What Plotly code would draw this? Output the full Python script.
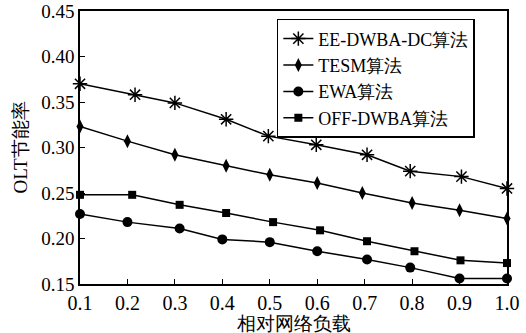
import plotly.graph_objects as go

names = ["EE-DWBA-DC算法", "TESM算法", "EWA算法", "OFF-DWBA算法"]
x_ee = [0.1, 0.216, 0.30, 0.408, 0.497, 0.598, 0.705, 0.796, 0.904, 1.0]
y_ee = [0.370, 0.358, 0.349, 0.331, 0.3125, 0.303, 0.292, 0.274, 0.268, 0.255]
x_tesm = [0.1, 0.2, 0.3, 0.408, 0.5, 0.6, 0.695, 0.8, 0.9, 1.0]
y_tesm = [0.323, 0.307, 0.292, 0.280, 0.270, 0.261, 0.250, 0.239, 0.231, 0.222]
x_ewa = [0.1, 0.2, 0.31, 0.40, 0.5, 0.6, 0.705, 0.796, 0.9, 1.0]
y_ewa = [0.227, 0.218, 0.211, 0.199, 0.196, 0.186, 0.177, 0.168, 0.156, 0.156]
x_off = [0.1, 0.21, 0.31, 0.408, 0.507, 0.606, 0.705, 0.805, 0.902, 1.0]
y_off = [0.248, 0.248, 0.237, 0.228, 0.218, 0.209, 0.197, 0.186, 0.176, 0.173]
x_ticks = [0.1, 0.2, 0.3, 0.4, 0.5, 0.6, 0.7, 0.8, 0.9, 1.0]
x_tick_labels = ["0.1", "0.2", "0.3", "0.4", "0.5", "0.6", "0.7", "0.8", "0.9", "1.0"]
y_ticks = [0.15, 0.20, 0.25, 0.30, 0.35, 0.40, 0.45]
y_tick_labels = ["0.15", "0.20", "0.25", "0.30", "0.35", "0.40", "0.45"]
x_title = "相对网络负载"
y_title = "OLT节能率"

FONT = "Liberation Serif"

series = [
    (x_ee, y_ee, names[0], dict(symbol="asterisk-open", size=12, color="black", line=dict(color="black", width=1.5))),
    (x_tesm, y_tesm, names[1], dict(symbol="diamond-tall", size=10, color="black")),
    (x_ewa, y_ewa, names[2], dict(symbol="circle", size=10, color="black")),
    (x_off, y_off, names[3], dict(symbol="square", size=8, color="black")),
]

fig = go.Figure()
for xs, ys, nm, mk in series:
    fig.add_trace(go.Scatter(x=xs, y=ys, name=nm, mode="lines+markers",
                             line=dict(color="black", width=1.5), marker=mk, cliponaxis=False))

fig.update_layout(
    width=526, height=333,
    margin=dict(l=80, r=19, t=11, b=49),
    paper_bgcolor="white", plot_bgcolor="white",
    font=dict(family=FONT, size=20, color="black"),
    legend=dict(x=0.461, y=0.971, xanchor="left", yanchor="top",
                bordercolor="black", borderwidth=1.5, bgcolor="white",
                font=dict(family=FONT, size=18), tracegroupgap=0,
                itemwidth=30),
    xaxis=dict(range=[0.1, 1.0], tickvals=x_ticks, ticktext=x_tick_labels,
               showgrid=False, zeroline=False, showline=True, linecolor="black",
               linewidth=1.5, mirror=True, ticks="inside", ticklen=5,
               tickcolor="black", tickfont=dict(family=FONT, size=20), automargin=False,
               ticklabeloverflow="allow"),
    yaxis=dict(range=[0.15, 0.45], tickvals=y_ticks, ticktext=y_tick_labels,
               showgrid=False, zeroline=False, showline=True, linecolor="black",
               linewidth=1.5, mirror=True, ticks="inside", ticklen=5,
               tickcolor="black", tickfont=dict(family=FONT, size=19), automargin=False,
               ticklabeloverflow="allow"),
    annotations=[
        dict(text=x_title, xref="paper", yref="paper", x=0.5, y=0, xanchor="center",
             yanchor="top", yshift=-27, showarrow=False, font=dict(family=FONT, size=19)),
        dict(text=y_title, xref="paper", yref="paper", x=0, y=0.5, xanchor="center",
             yanchor="middle", xshift=-60, textangle=-90, showarrow=False,
             font=dict(family=FONT, size=19)),
    ],
)

fig.write_html("out.html", config={"displayModeBar": False},
               post_script="document.body.style.margin='0px';")
